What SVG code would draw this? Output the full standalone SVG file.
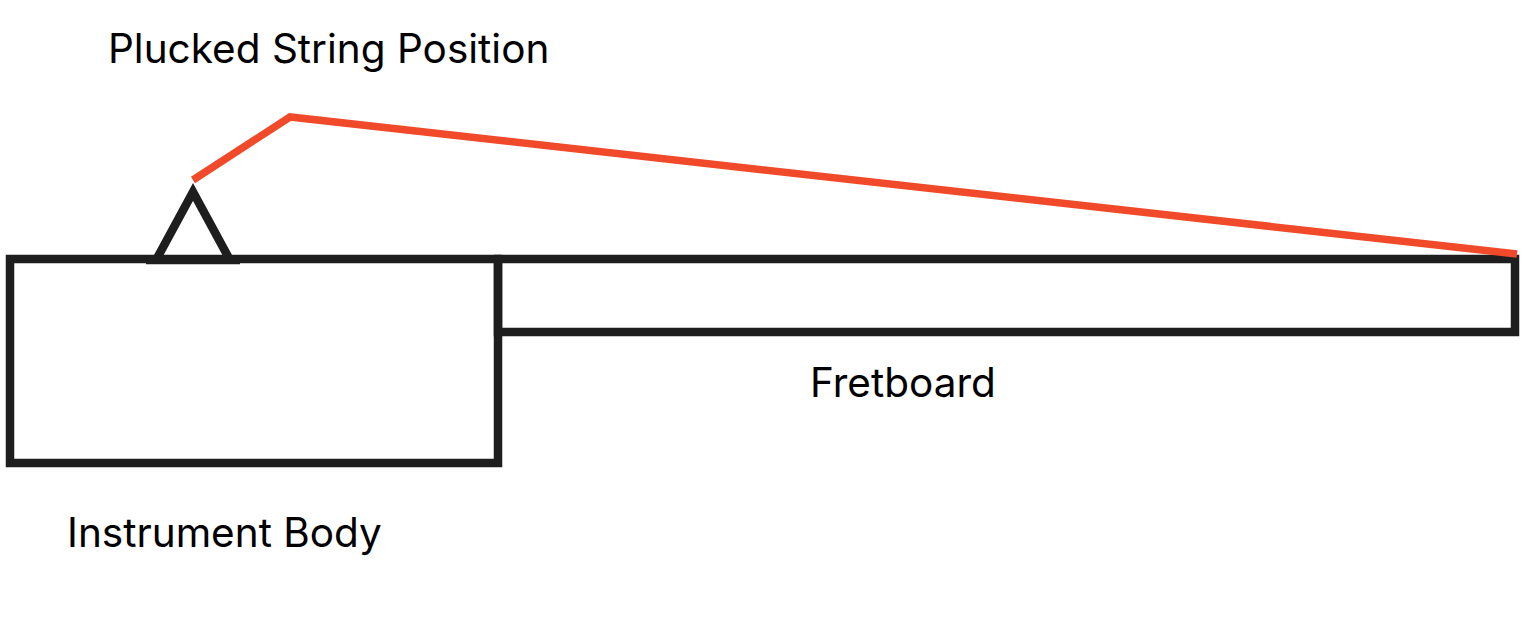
<svg xmlns="http://www.w3.org/2000/svg" width="1529" height="619" viewBox="0 0 1529 619">
<style>
.lbl{font-family:Inter,"Liberation Sans",sans-serif;font-size:40.5px;fill:#000}
.blk{fill:none;stroke:#1e1e1e;stroke-width:8.5}
.str{fill:none;stroke:#f04a2a;stroke-width:7.5}
</style>
<rect width="1529" height="619" fill="#fff"/>
<g id="body">
<rect class="blk" x="10" y="259" width="488" height="204"/>
<text class="lbl" x="67" y="547">Instrument Body</text>
</g>
<g id="fretboard">
<rect class="blk" x="498" y="259" width="1017" height="73"/>
<text class="lbl" x="810" y="397">Fretboard</text>
</g>
<g id="bridge">
<polyline class="blk" points="155,262 193,192 231,262" stroke-linejoin="miter"/>
<line class="blk" x1="146" y1="260" x2="240" y2="260" stroke-width="10"/>
</g>
<g id="connectors">
<polyline class="str" points="193,180 290,117 1517,254" stroke-linejoin="miter"/>
</g>
<g id="label">
<text class="lbl" x="108" y="63">Plucked String Position</text>
</g>
</svg>
